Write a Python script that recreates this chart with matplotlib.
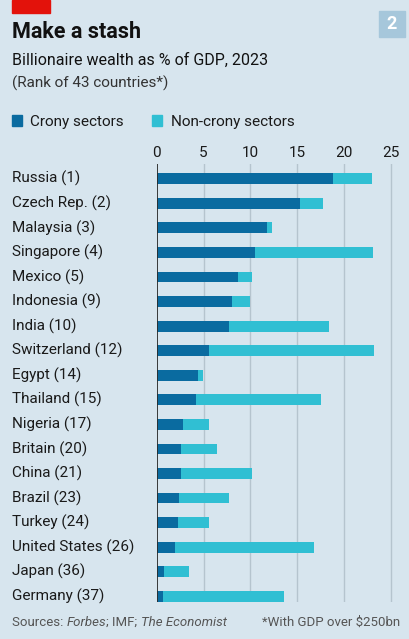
import matplotlib.pyplot as plt
import matplotlib.patches as mpatches
from matplotlib.transforms import blended_transform_factory

countries = ["Russia (1)", "Czech Rep. (2)", "Malaysia (3)", "Singapore (4)",
             "Mexico (5)", "Indonesia (9)", "India (10)", "Switzerland (12)",
             "Egypt (14)", "Thailand (15)", "Nigeria (17)", "Britain (20)",
             "China (21)", "Brazil (23)", "Turkey (24)", "United States (26)",
             "Japan (36)", "Germany (37)"]
crony = [18.8, 15.3, 11.75, 10.45, 8.7, 8.0, 7.75, 5.55, 4.45, 4.25,
         2.8, 2.6, 2.6, 2.35, 2.3, 2.0, 0.8, 0.7]
total = [23.0, 17.75, 12.3, 23.1, 10.2, 9.95, 18.4, 23.2, 4.95, 17.6,
         5.6, 6.4, 10.2, 7.7, 5.6, 16.8, 3.45, 13.6]
non_crony = [t - c for t, c in zip(total, crony)]
xticks = [0, 5, 10, 15, 20, 25]

BG = "#d7e5ee"
DARK = "#0a6ba0"
LIGHT = "#30bfd3"
W, H = 410, 639

plt.rcParams['font.family'] = ['Roboto', 'DejaVu Sans']

fig = plt.figure(figsize=(W / 100, H / 100), dpi=100, facecolor=BG)
ax = fig.add_axes([156.7 / W, 1 - 601.7 / H, 243.4 / W, 437.7 / H])
ax.set_facecolor(BG)

y = list(range(len(countries)))
ax.barh(y, crony, height=0.44, color=DARK, zorder=3)
ax.barh(y, non_crony, left=crony, height=0.44, color=LIGHT, zorder=3)

ax.set_xlim(0, 26)
ax.set_ylim(len(countries) - 1 + 0.22, -0.6)
ax.set_xticks(xticks)
ax.set_xticklabels([str(v) for v in xticks], fontsize=11, color="#1a1a1a")
ax.xaxis.tick_top()
ax.tick_params(axis='x', length=0, pad=3)
ax.set_yticks([])
for v in xticks[1:]:
    ax.axvline(v, color="#b5c4ce", lw=1, zorder=1)
ax.axvline(0, color="#2b2b2b", lw=1.3, zorder=4)
for s in ax.spines.values():
    s.set_visible(False)

# country labels
tr = blended_transform_factory(fig.transFigure, ax.transData)
for i, name in enumerate(countries):
    ax.text(12 / W, i, name, transform=tr, ha='left', va='center',
            fontsize=11, color="#1a1a1a")

# header
fig.patches.append(mpatches.Rectangle((12 / W, 1 - 12.5 / H), 38.5 / W, 12.5 / H,
                                      transform=fig.transFigure, color="#e3120b"))
fig.patches.append(mpatches.Rectangle((379 / W, 1 - 37 / H), 26 / W, 26 / H,
                                      transform=fig.transFigure, color="#a6c7db"))
fig.text(392 / W, 1 - 24 / H, "2", ha='center', va='center', fontsize=13,
         fontweight='bold', color="white")
fig.text(12 / W, 1 - 32 / H, "Make a stash", ha='left', va='center',
         fontsize=15.5, fontweight='bold', color="#111111")
fig.text(12 / W, 1 - 60 / H, "Billionaire wealth as % of GDP, 2023", ha='left',
         va='center', fontsize=11.5, color="#111111")
fig.text(12 / W, 1 - 83 / H, "(Rank of 43 countries*)", ha='left', va='center',
         fontsize=11, color="#333333")

# legend
fig.patches.append(mpatches.Rectangle((12 / W, 1 - 126 / H), 10.5 / W, 10.5 / H,
                                      transform=fig.transFigure, color=DARK))
fig.text(30 / W, 1 - 122 / H, "Crony sectors", ha='left', va='center',
         fontsize=11, color="#1a1a1a")
fig.patches.append(mpatches.Rectangle((152 / W, 1 - 126 / H), 10.5 / W, 10.5 / H,
                                      transform=fig.transFigure, color=LIGHT))
fig.text(171 / W, 1 - 122 / H, "Non-crony sectors", ha='left', va='center',
         fontsize=11, color="#1a1a1a")

# footer, pieces so that the source names can be italic
renderer = fig.canvas.get_renderer()
x = 12.0
for piece, style in [("Sources: ", 'normal'), ("Forbes", 'italic'),
                     ("; IMF; ", 'normal'), ("The Economist", 'italic')]:
    t = fig.text(x / W, 1 - 622 / H, piece, ha='left', va='center',
                 fontsize=9.5, style=style, color="#555555")
    x += t.get_window_extent(renderer).width
fig.text(400 / W, 1 - 622 / H, "*With GDP over $250bn", ha='right', va='center',
         fontsize=9.5, color="#555555")

fig.savefig("out.png", dpi=100, facecolor=BG)
